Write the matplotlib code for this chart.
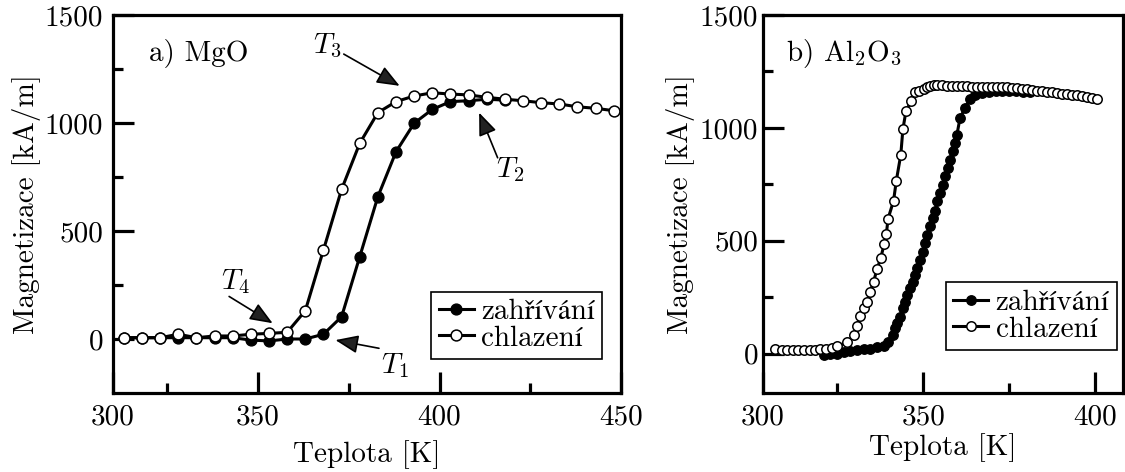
import matplotlib
matplotlib.use("Agg")
import matplotlib.pyplot as plt

# Computer Modern, pro ceske znaky (ř, í, á) zaloha STIX
plt.rcParams['font.family'] = ['cmr10', 'STIXGeneral', 'DejaVu Serif']
plt.rcParams['mathtext.fontset'] = 'cm'
plt.rcParams['axes.unicode_minus'] = False

# a) MgO - ohrev / chlazeni
mgo_T_heat = [313, 318, 323, 328, 333, 338, 343, 348, 353, 358, 363, 368, 373, 378,
              383, 388, 393, 398, 403, 408, 413, 418]
mgo_M_heat = [6, 6, 6, 6, 6, 6, 6, -5, -9, 0, 0, 22, 103, 381,
              659, 867, 999, 1063, 1099, 1103, 1110, 1106]
mgo_T_cool = [313, 318, 323, 328, 333, 338, 343, 348, 353, 358, 363, 368, 373, 378,
              383, 388, 393, 398, 403, 408, 413, 418, 423, 428, 433, 438, 443, 448]
mgo_M_cool = [6, 6, 6, 22, 6, 14, 14, 22, 26, 31, 131, 412, 693, 906,
              1048, 1099, 1125, 1140, 1134, 1130, 1119, 1110, 1103, 1094, 1088, 1075, 1068, 1057]

# b) Al2O3
al_T_heat = [321.1, 323.0, 325.0, 326.9, 328.8, 330.8, 332.7, 334.6, 336.6, 338.5,
             339.9, 341.2, 341.9, 342.5, 343.3, 344.1, 344.8, 345.4, 346.2, 347.0,
             347.7, 348.3, 349.1, 349.9, 350.6, 351.2, 352.0, 352.8, 353.5, 354.1,
             354.9, 355.7, 356.4, 357.1, 357.8, 358.6, 359.3, 359.8, 360.7, 362.2,
             363.6, 365.1, 367.0, 369.0, 371.0, 373.0, 375.0, 377.0, 379.0, 381.0]
al_M_heat = [-7, -4, 0, 7, 10, 15, 18, 22, 27, 34,
             52, 81, 111, 133, 163, 200, 230, 259, 289, 319,
             348, 378, 415, 452, 489, 526, 563, 600, 630, 674,
             711, 748, 785, 822, 859, 896, 933, 970, 1044, 1089,
             1126, 1145, 1156, 1160, 1162, 1163, 1163, 1162, 1160, 1158]
al_T_cool = [307.1, 309.0, 310.6, 312.2, 313.8, 315.3, 317.0, 318.5, 320.1, 321.9,
             323.5, 325.1, 328.0, 330.0, 330.8, 331.7, 332.9, 333.8, 334.6, 335.6,
             336.6, 337.7, 338.7, 339.3, 339.8, 341.4, 342.2, 343.5, 344.1, 345.0,
             346.5, 347.7, 348.9, 350.1, 351.1, 352.0, 353.0, 354.0, 355.4, 356.9,
             358.3, 359.7, 361.2, 362.6, 364.1, 365.5, 367.0, 368.4, 369.9, 371.3,
             372.8, 374.2, 375.7, 377.1, 378.6, 380.0, 381.5, 383.0, 384.4, 385.9,
             387.3, 388.8, 390.2, 391.7, 393.1, 394.6, 396.0, 397.5, 398.9, 400.4]
al_M_cool = [19, 15, 15, 15, 15, 15, 15, 15, 19, 22,
             25, 34, 49, 81, 123, 167, 203, 230, 274, 319,
             373, 425, 486, 529, 597, 677, 766, 881, 993, 1074,
             1119, 1160, 1165, 1172, 1180, 1185, 1188, 1190, 1188, 1186,
             1185, 1184, 1184, 1184, 1183, 1183, 1182, 1182, 1182, 1181,
             1180, 1179, 1177, 1175, 1173, 1170, 1168, 1165, 1162, 1160,
             1157, 1155, 1152, 1150, 1147, 1144, 1140, 1136, 1131, 1127]

popisky = ['zahřívání', 'chlazení']
y_ticks = [0, 500, 1000, 1500]
y_minor = [250, 750, 1250]

FS = 21

fig = plt.figure(figsize=(11.25, 4.72), dpi=100)
ax1 = fig.add_axes([113 / 1125, 79 / 472, 508 / 1125, 378 / 472])
ax2 = fig.add_axes([763 / 1125, 79 / 472, 360 / 1125, 378 / 472])


def vykresli(ax, Th, Mh, Tc, Mc, ms):
    ax.plot(Th, Mh, 'k-', lw=2.2, marker='o', ms=ms, mfc='k', mec='k', mew=1.0, label=popisky[0])
    ax.plot(Tc, Mc, 'k-', lw=2.2, marker='o', ms=ms, mfc='white', mec='k', mew=1.1, label=popisky[1])


def nastav_osu(ax, xlim, ylim, xticks, xlabels, xminor, tpad, xlpad):
    ax.set_xlim(*xlim)
    ax.set_ylim(*ylim)
    ax.set_xticks(xticks)
    ax.set_xticklabels(xlabels)
    ax.set_xticks(xminor, minor=True)
    ax.set_yticks(y_ticks)
    ax.set_yticklabels([str(v) for v in y_ticks])
    ax.set_yticks(y_minor, minor=True)
    ax.tick_params(which='both', direction='in', width=2.3, labelsize=FS, top=False, right=False)
    ax.tick_params(which='major', length=15)
    ax.tick_params(which='minor', length=7.5)
    ax.tick_params(axis='y', which='both', pad=tpad)
    ax.tick_params(axis='x', which='both', pad=8)
    for s in ax.spines.values():
        s.set_linewidth(2.3)
    ax.set_xlabel('Teplota [K]', fontsize=FS, labelpad=xlpad)
    ax.set_ylabel('Magnetizace [kA/m]', fontsize=FS, labelpad=3)


def legenda(ax, x, y):
    leg = ax.legend(loc='lower right', bbox_to_anchor=(x, y), fontsize=FS, frameon=True,
                    fancybox=False, edgecolor='k', framealpha=1, borderaxespad=0,
                    borderpad=0.25, labelspacing=0.0, handlelength=1.2,
                    handletextpad=0.25, numpoints=1)
    leg.get_frame().set_linewidth(1.2)


# panel a
vykresli(ax1, mgo_T_heat, mgo_M_heat, mgo_T_cool, mgo_M_cool, 7.8)
nastav_osu(ax1, (310, 450), (-250, 1500), [310, 350, 400, 450], ['300', '350', '400', '450'],
           [325, 375, 425], 7, 7)
legenda(ax1, 0.963, 0.09)
ax1.text(0.07, 0.898, 'a) MgO', transform=ax1.transAxes, fontsize=FS, ha='left', va='center')

sipka = dict(arrowstyle='-|>,head_length=0.7,head_width=0.28', color='k', fc='#222222',
             lw=1.2, mutation_scale=20, shrinkA=0, shrinkB=0)
# (text, pozice textu, konec sipky, hrot sipky)
znacky = [(r'$T_3$', (369, 1358), (373.6, 1319), (389, 1172)),
          (r'$T_2$', (419.3, 785), (416, 839), (410.9, 1048)),
          (r'$T_4$', (343.7, 266), (342, 197), (354, 73)),
          (r'$T_1$', (387.6, -121), (383.3, -43), (371.3, -5))]
for txt, pos, tail, tip in znacky:
    ax1.text(pos[0], pos[1], txt, fontsize=FS, ha='center', va='center')
    ax1.annotate('', xy=tip, xytext=tail, arrowprops=sipka)

# panel b
vykresli(ax2, al_T_heat, al_M_heat, al_T_cool, al_M_cool, 6.8)
nastav_osu(ax2, (303.5, 408), (-175, 1500), [303.5, 350, 400], ['300', '350', '400'],
           [325, 375], 3.5, 2)
legenda(ax2, 0.983, 0.114)
ax2.text(0.065, 0.899, r'b) Al$_2$O$_3$', transform=ax2.transAxes, fontsize=FS, ha='left', va='center')

plt.savefig('out.png', dpi=100)
